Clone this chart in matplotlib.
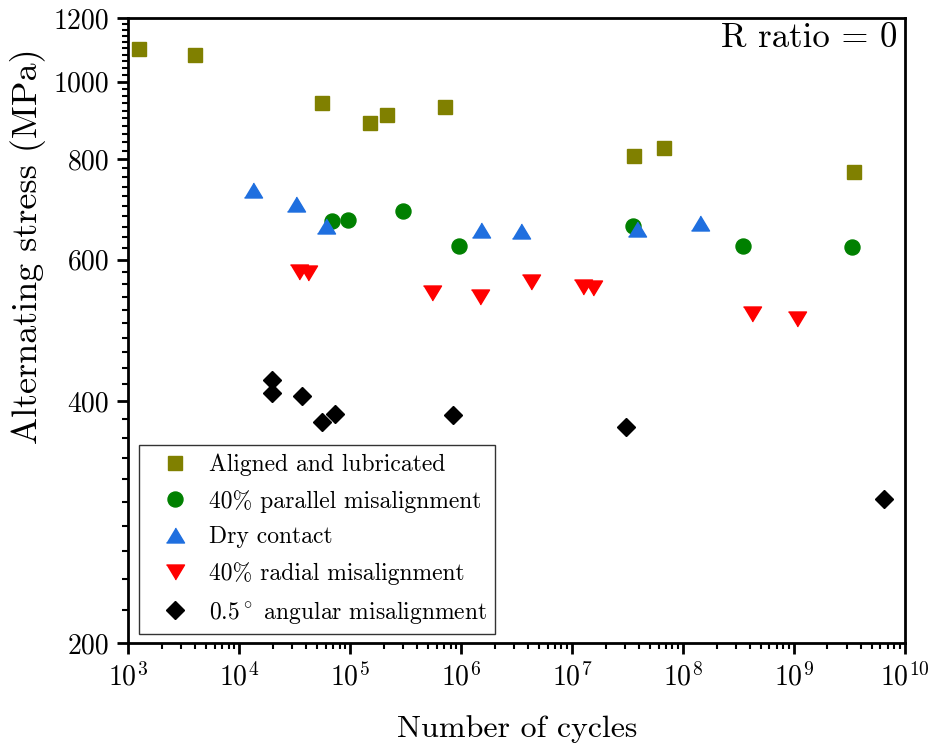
import numpy as np
import matplotlib
matplotlib.use("Agg")
import matplotlib.pyplot as plt
from matplotlib.ticker import (LogLocator, MultipleLocator, FixedLocator,
                               NullFormatter, LogFormatterSciNotation)

plt.rcParams['font.family'] = 'cmr10'
plt.rcParams['mathtext.fontset'] = 'cm'
plt.rcParams['axes.formatter.use_mathtext'] = True

# data (cycles, MPa)
aligned_n = [1.25e3, 3.95e3, 5.5e4, 1.5e5, 2.13e5, 7.1e5, 3.58e7, 6.7e7, 3.5e9]
aligned_s = [1098, 1079, 940, 888, 909, 930, 808, 826, 772]

parallel_n = [6.8e4, 9.5e4, 2.97e5, 9.5e5, 3.5e7, 3.44e8, 3.32e9]
parallel_s = [671, 672, 690, 624, 661, 624, 622]

dry_n = [1.33e4, 3.27e4, 6.0e4, 1.5e6, 3.44e6, 3.81e7, 1.43e8]
dry_s = [733, 705, 661, 653, 651, 655, 666]

radial_n = [3.46e4, 4.17e4, 5.5e5, 1.47e6, 4.23e6, 1.25e7, 1.54e7, 4.17e8, 1.07e9]
radial_s = [580, 577, 546, 540, 563, 555, 553, 514, 507]

angular_n = [1.95e4, 1.95e4, 3.7e4, 5.57e4, 7.24e4, 8.34e5, 3.05e7, 6.53e9]
angular_s = [425, 410, 406, 377, 386, 384.5, 372, 302]

labels = ['Aligned and lubricated', r'40% parallel misalignment', 'Dry contact',
          r'40% radial misalignment', r'0.5$^\circ$ angular misalignment']

x_ticks = [1e3, 1e4, 1e5, 1e6, 1e7, 1e8, 1e9, 1e10]
y_ticks = [200, 400, 600, 800, 1000, 1200]

tri_up = [(-1, -0.83), (1, -0.83), (0, 0.83)]
tri_down = [(-1, 0.83), (1, 0.83), (0, -0.83)]

fig = plt.figure(figsize=(9.33, 7.45), dpi=100)
ax = fig.add_axes([0.1377, 0.1369, 0.8323, 0.8389])

ax.plot(aligned_n, aligned_s, ls='none', marker='s', ms=9.6, color='#808000', label=labels[0])
ax.plot(parallel_n, parallel_s, ls='none', marker='o', ms=10.8, color='#008000', label=labels[1])
ax.plot(dry_n, dry_s, ls='none', marker=tri_up, ms=13, color='#1f6fdf', label=labels[2])
ax.plot(radial_n, radial_s, ls='none', marker=tri_down, ms=13, color='#ff0000', label=labels[3])
ax.plot(angular_n, angular_s, ls='none', marker='D', ms=9.3, color='black', label=labels[4])

ax.set_xscale('log')
ax.set_yscale('log')
ax.set_xlim(1e3, 1e10)
ax.set_ylim(200, 1200)

ax.xaxis.set_major_locator(FixedLocator(x_ticks))
ax.xaxis.set_major_formatter(LogFormatterSciNotation())
ax.xaxis.set_minor_locator(LogLocator(base=10, subs=np.arange(2, 10), numticks=20))
ax.xaxis.set_minor_formatter(NullFormatter())
ax.yaxis.set_major_locator(FixedLocator(y_ticks))
ax.yaxis.set_major_formatter(matplotlib.ticker.FormatStrFormatter('%d'))
ax.yaxis.set_minor_locator(MultipleLocator(20))
ax.yaxis.set_minor_formatter(NullFormatter())

for s in ax.spines.values():
    s.set_linewidth(2)
ax.tick_params(which='major', direction='out', length=8, width=2, labelsize=20, pad=6)
ax.tick_params(which='minor', direction='out', length=4, width=1.5)

ax.set_xlabel('Number of cycles', fontsize=23, labelpad=17)
ax.set_ylabel('Alternating stress (MPa)', fontsize=26)
ax.yaxis.set_label_coords(-0.106, 0.635)

ax.text(0.99, 0.993, 'R ratio = 0', transform=ax.transAxes, ha='right', va='top', fontsize=25)

leg = ax.legend(loc='lower left', bbox_to_anchor=(0.0135, 0.0144), borderaxespad=0,
                fontsize=17, fancybox=False, framealpha=1, edgecolor='#333333',
                handletextpad=0.26, labelspacing=0.58, borderpad=0.35, handlelength=2.35)
leg.get_frame().set_linewidth(1)

fig.savefig('out.png', dpi=100)
